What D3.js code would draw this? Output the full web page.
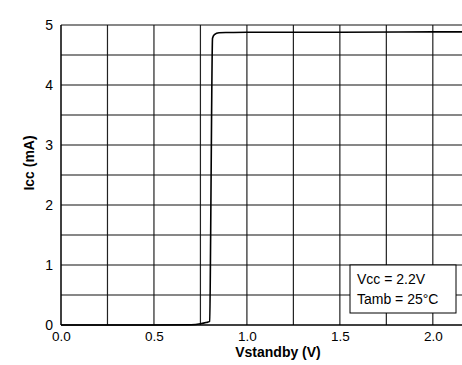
<!DOCTYPE html>
<html><head><meta charset="utf-8">
<script src="https://cdn.jsdelivr.net/npm/d3@7"></script>
<style>body{margin:0;background:#fff;}svg{display:block;font-family:"Liberation Sans",Arial,sans-serif;}</style>
</head><body>
<svg id="c" width="462" height="365"></svg>
<script>
const vstandby = [0, 0.25, 0.5, 0.7, 0.75, 0.78, 0.80, 0.805, 0.81, 0.815, 0.825, 0.85, 0.9, 1.0, 1.5, 2.0, 2.2];
const icc      = [0, 0, 0, 0.005, 0.02, 0.04, 0.06, 1.5, 3.5, 4.78, 4.84, 4.87, 4.875, 4.88, 4.88, 4.885, 4.885];
const xTicks = [0, 0.5, 1.0, 1.5, 2.0];
const yTicks = [0, 1, 2, 3, 4, 5];
const xGrid = [0.25, 0.5, 0.75, 1.0, 1.25, 1.5, 1.75, 2.0, 2.25];
const yGrid = [0.5, 1, 1.5, 2, 2.5, 3, 3.5, 4, 4.5, 5];
const legendLines = ["Vcc = 2.2V", "Tamb = 25\u00B0C"];

const svg = d3.select("#c");
const x = d3.scaleLinear().domain([0, 2.2]).range([61, 470]);
const y = d3.scaleLinear().domain([0, 5]).range([325, 25]);

const g = svg.append("g");
g.selectAll("line.vg").data(xGrid).join("line")
  .attr("x1", d => x(d)).attr("x2", d => x(d)).attr("y1", y(0)).attr("y2", y(5))
  .attr("stroke", "#222").attr("stroke-width", 1.2);
g.selectAll("line.hg").data(yGrid).join("line")
  .attr("x1", x(0)).attr("x2", 462).attr("y1", d => y(d)).attr("y2", d => y(d))
  .attr("stroke", "#111").attr("stroke-width", 1.2);

// axes lines
svg.append("line").attr("x1", x(0)).attr("x2", x(0)).attr("y1", y(0)).attr("y2", y(5)).attr("stroke", "#000").attr("stroke-width", 1.5);
svg.append("line").attr("x1", x(0)).attr("x2", 462).attr("y1", y(0)).attr("y2", y(0)).attr("stroke", "#000").attr("stroke-width", 1.5);

// tick labels
const xa = d3.axisBottom(x).tickValues(xTicks).tickFormat(d3.format(".1f")).tickSize(0).tickPadding(6);
svg.append("g").attr("transform", `translate(0,${y(0)})`).call(xa)
  .call(s => s.select(".domain").remove())
  .selectAll("text").attr("font-size", 13.5).attr("fill", "#000").attr("font-family", "Liberation Sans, Arial, sans-serif");
const ya = d3.axisLeft(y).tickValues(yTicks).tickFormat(d3.format("d")).tickSize(0).tickPadding(8);
svg.append("g").attr("transform", `translate(${x(0)},0)`).call(ya)
  .call(s => s.select(".domain").remove())
  .selectAll("text").attr("font-size", 14).attr("fill", "#000").attr("font-family", "Liberation Sans, Arial, sans-serif")
  .attr("dy", "0.3em");

// curve
const line = d3.line().x((d, i) => x(vstandby[i])).y(d => y(d)).curve(d3.curveMonotoneX);
svg.append("path").datum(icc).attr("d", line).attr("fill", "none").attr("stroke", "#000").attr("stroke-width", 1.6);

// axis titles
svg.append("text").attr("x", 278).attr("y", 357).attr("text-anchor", "middle")
  .attr("font-size", 14).attr("font-weight", "bold").text("Vstandby (V)");
svg.append("text").attr("transform", "translate(34,163) rotate(-90)").attr("text-anchor", "middle")
  .attr("font-size", 14).attr("font-weight", "bold").text("Icc (mA)");

// legend box
const lg = svg.append("g");
lg.append("rect").attr("x", 350).attr("y", 265).attr("width", 106).attr("height", 48)
  .attr("fill", "#fff").attr("stroke", "#000").attr("stroke-width", 1);
lg.selectAll("text").data(legendLines).join("text")
  .attr("x", 357).attr("y", (d, i) => 284 + i * 20).attr("font-size", 14).text(d => d);
</script>
</body></html>
